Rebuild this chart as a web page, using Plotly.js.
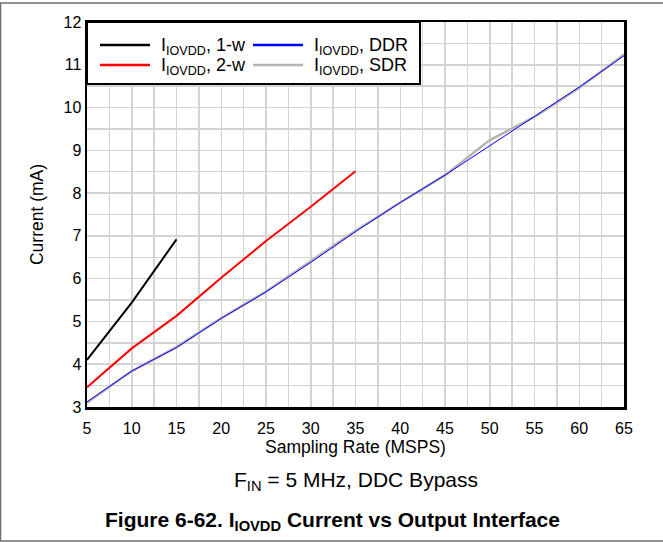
<!DOCTYPE html>
<html>
<head>
<meta charset="utf-8">
<script src="https://cdn.plot.ly/plotly-3.0.1.min.js"></script>
<style>
html,body{margin:0;padding:0;background:#fff;}
#chart{width:663px;height:542px;}
</style>
</head>
<body>
<div id="chart"></div>
<script>
// Sampling rate (MSPS) and IOVDD current (mA)
const rate1w = [5, 10, 15];
const cur1w = [4.10, 5.44, 6.92];
const rate2w = [5, 10, 15, 20, 25, 30, 35];
const cur2w = [3.46, 4.37, 5.13, 6.02, 6.88, 7.68, 8.51];
const rateDDR = [5, 10, 15, 20, 25, 30, 35, 40, 45, 50, 55, 60, 65];
const curDDR = [3.12, 3.84, 4.39, 5.07, 5.69, 6.38, 7.10, 7.78, 8.42, 9.10, 9.78, 10.48, 11.21];
const rateSDR = [5, 10, 15, 20, 25, 30, 35, 40, 45, 50, 55, 60, 65];
const curSDR = [3.10, 3.84, 4.40, 5.08, 5.70, 6.42, 7.12, 7.78, 8.42, 9.24, 9.78, 10.46, 11.24];
const xTicks = [5, 10, 15, 20, 25, 30, 35, 40, 45, 50, 55, 60, 65];
const yTicks = [3, 4, 5, 6, 7, 8, 9, 10, 11, 12];
const seriesNames = ['I<sub>IOVDD</sub>, 1-w', 'I<sub>IOVDD</sub>, 2-w', 'I<sub>IOVDD</sub>, DDR', 'I<sub>IOVDD</sub>, SDR'];
const seriesColors = ['#000000', '#ff0000', '#0000ff', '#b4b4b4'];

const W = 663, H = 542;
const M = {l: 87, r: 39, t: 22, b: 135};
const pw = W - M.l - M.r, ph = H - M.t - M.b;
const px = v => (v - M.l) / pw;          // pixel x -> paper x
const py = v => (H - M.b - v) / ph;      // pixel y -> paper y

const FONT = 'Liberation Sans, Arial, sans-serif';

const traces = [
  {x: rate1w, y: cur1w, name: seriesNames[0], mode: 'lines', line: {color: seriesColors[0], width: 2}},
  {x: rateSDR, y: curSDR, name: seriesNames[3], mode: 'lines', line: {color: seriesColors[3], width: 2.5}},
  {x: rateDDR, y: curDDR, name: seriesNames[2], mode: 'lines', line: {color: seriesColors[2], width: 1}},
  {x: rate2w, y: cur2w, name: seriesNames[1], mode: 'lines', line: {color: seriesColors[1], width: 2}}
];

// hand-drawn legend box (2 columns x 2 rows)
const legendShapes = [
  {type: 'rect', xref: 'paper', yref: 'paper', x0: px(87), x1: px(420), y0: py(22), y1: py(84),
   fillcolor: '#ffffff', line: {color: '#000', width: 2}, layer: 'above'}
];
const legendAnn = [];
const cols = [100, 253], rows = [45, 65];
// order: col1 row1 = 1-w, col1 row2 = 2-w, col2 row1 = DDR, col2 row2 = SDR
[[0, 0, 0], [1, 0, 1], [2, 1, 0], [3, 1, 1]].forEach(([i, c, r]) => {
  legendShapes.push({type: 'line', xref: 'paper', yref: 'paper', layer: 'above',
    x0: px(cols[c]), x1: px(cols[c] + 50), y0: py(rows[r]), y1: py(rows[r]),
    line: {color: seriesColors[i], width: 2.5}});
  legendAnn.push({xref: 'paper', yref: 'paper', x: px(cols[c] + 59), y: py(rows[r] + 1),
    xanchor: 'left', yanchor: 'middle', showarrow: false, text: seriesNames[i],
    font: {family: FONT, size: 18, color: '#000'}});
});

const layout = {
  width: W, height: H,
  margin: M,
  paper_bgcolor: '#ffffff',
  plot_bgcolor: '#ffffff',
  font: {family: FONT, color: '#000', size: 16},
  showlegend: false,
  xaxis: {
    range: [5, 65], tickvals: xTicks, ticktext: xTicks.map(String),
    showgrid: true, gridcolor: '#d4d4d4', gridwidth: 1.5,
    minor: {dtick: 2.5, tick0: 5, showgrid: true, gridcolor: '#d4d4d4', gridwidth: 1.5},
    showline: true, linecolor: '#000', linewidth: 2.5, mirror: true,
    ticks: '', zeroline: false, tickfont: {size: 16}, ticklabelstandoff: 5,
    title: {text: 'Sampling Rate (MSPS)', font: {size: 17.5}, standoff: 2}
  },
  yaxis: {
    range: [3, 12], tickvals: yTicks, ticktext: yTicks.map(String),
    showgrid: true, gridcolor: '#d4d4d4', gridwidth: 1.5,
    minor: {dtick: 0.5, tick0: 3, showgrid: true, gridcolor: '#d4d4d4', gridwidth: 1.5},
    showline: true, linecolor: '#000', linewidth: 2.5, mirror: true,
    ticks: '', zeroline: false, tickfont: {size: 16},
    title: {text: 'Current (mA)', font: {size: 17.5}, standoff: 16}
  },
  annotations: [
    {xref: 'paper', yref: 'paper', x: px(356), y: py(481), xanchor: 'center', yanchor: 'middle',
     text: 'F<sub>IN</sub> = 5 MHz, DDC Bypass', showarrow: false,
     font: {family: FONT, size: 21, color: '#000'}},
    {xref: 'paper', yref: 'paper', x: px(332), y: py(521), xanchor: 'center', yanchor: 'middle',
     text: '<b>Figure 6-62. I<sub>IOVDD</sub> Current vs Output Interface</b>', showarrow: false,
     font: {family: FONT, size: 21, color: '#000'}}
  ].concat(legendAnn),
  shapes: [
    {type: 'line', xref: 'paper', yref: 'paper', x0: px(0), x1: px(663), y0: py(3), y1: py(3),
     line: {color: '#6e6e6e', width: 1.5}},
    {type: 'line', xref: 'paper', yref: 'paper', x0: px(0.5), x1: px(0.5), y0: py(3), y1: py(541),
     line: {color: '#6e6e6e', width: 1.5}},
    {type: 'line', xref: 'paper', yref: 'paper', x0: px(0), x1: px(663), y0: py(541), y1: py(541),
     line: {color: '#6e6e6e', width: 1.5}}
  ].concat(legendShapes)
};

Plotly.newPlot('chart', traces, layout, {displayModeBar: false, staticPlot: true});
</script>
</body>
</html>
